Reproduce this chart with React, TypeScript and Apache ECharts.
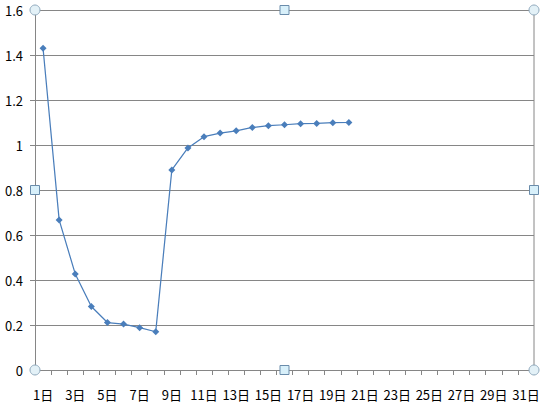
import React, { useEffect, useRef } from "react";
import * as echarts from "echarts";

const days: string[] = Array.from({ length: 31 }, (_, i) => `${i + 1}日`);
const values: number[] = [
  1.43, 0.667, 0.427, 0.282, 0.211, 0.204, 0.188, 0.17, 0.889, 0.987,
  1.037, 1.053, 1.063, 1.078, 1.086, 1.09, 1.095, 1.096, 1.099, 1.1,
];
const yMin = 0;
const yMax = 1.6;
const yStep = 0.2;

const FONT = "'Noto Sans CJK JP', 'Noto Sans', sans-serif";

export default function App() {
  const ref = useRef<HTMLDivElement>(null);
  useEffect(() => {
    if (!ref.current) return;
    const chart = echarts.init(ref.current, undefined, { renderer: "svg" });
    const L = 35, R = 534, T = 10, B = 370;
    const midX = (L + R) / 2, midY = (T + B) / 2;
    const circle = (x: number, y: number) => ({
      type: "circle",
      shape: { cx: x, cy: y, r: 5 },
      style: { fill: "#e3f1f7", stroke: "#8ea8bc", lineWidth: 1 },
      z: 100,
    });
    const square = (x: number, y: number) => ({
      type: "rect",
      shape: { x: x - 4.5, y: y - 4.5, width: 9, height: 9 },
      style: { fill: "#d8f0fa", stroke: "#6a8cab", lineWidth: 1 },
      z: 100,
    });
    chart.setOption({
      animation: false,
      backgroundColor: "#ffffff",
      grid: { left: L, right: 544 - R, top: T, bottom: 409 - B, containLabel: false },
      xAxis: {
        type: "category",
        data: days,
        boundaryGap: true,
        axisLine: { show: true, lineStyle: { color: "#868686", width: 1 } },
        axisTick: { show: true, length: 5, inside: false, interval: 0, lineStyle: { color: "#868686" } },
        axisLabel: { interval: 1, margin: 18, color: "#000", fontSize: 13, fontFamily: FONT },
        splitLine: { show: false },
      },
      yAxis: {
        type: "value",
        min: yMin,
        max: yMax,
        interval: yStep,
        axisLine: { show: true, lineStyle: { color: "#868686", width: 1 } },
        axisTick: { show: true, length: 5, lineStyle: { color: "#868686" } },
        axisLabel: {
          margin: 12,
          color: "#000",
          fontSize: 13,
          fontFamily: FONT,
          formatter: (v: number) => String(Math.round(v * 10) / 10),
        },
        splitLine: { show: true, lineStyle: { color: "#868686", width: 1 } },
      },
      series: [
        {
          type: "line",
          data: values,
          symbol: "diamond",
          symbolSize: 7,
          lineStyle: { color: "#4a7ebb", width: 1.25 },
          itemStyle: { color: "#4a7ebb" },
          z: 5,
        },
      ],
      graphic: [
        {
          type: "line",
          shape: { x1: R, y1: T, x2: R, y2: B },
          style: { stroke: "#868686", lineWidth: 1 },
          z: 50,
        },
        circle(L, T), circle(R, T), circle(L, B), circle(R, B),
        square(midX, T), square(midX, B), square(L, midY), square(R, midY),
      ],
    });
    return () => chart.dispose();
  }, []);
  return (
    <div
      ref={ref}
      style={{ position: "fixed", left: 0, top: 0, width: 544, height: 409 }}
    />
  );
}
